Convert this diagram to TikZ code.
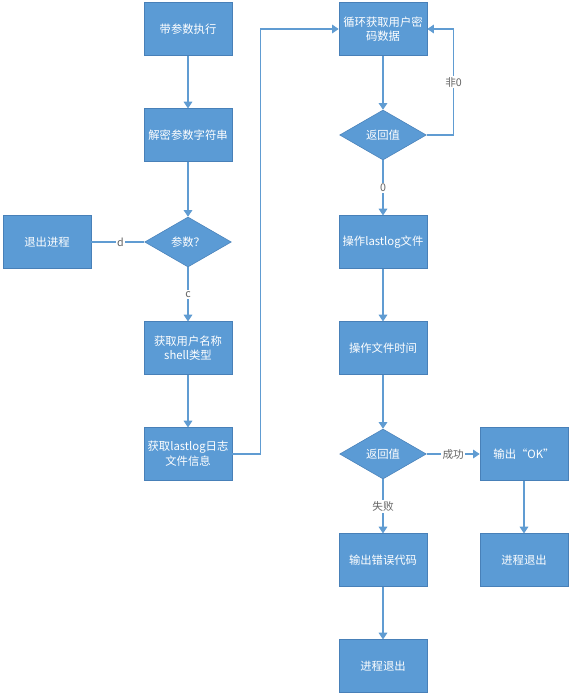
\documentclass[tikz,border=0pt]{standalone}
\usepackage{fontspec}
\setmainfont{Noto Sans CJK SC}
\usepackage{xcolor}
\definecolor{fcblue}{RGB}{91,155,213}
\definecolor{fcedge}{RGB}{72,128,184}
\definecolor{fcline}{RGB}{96,156,210}
\definecolor{fcgray}{RGB}{100,100,100}
\usetikzlibrary{arrows.meta,shapes.geometric}
\tikzset{
  fbox/.style={draw=fcedge, line width=0.4pt, fill=fcblue, text=white, font=\fontsize{8.5}{11}\selectfont,
               minimum width=66pt, minimum height=39.5pt, align=center, inner sep=2pt},
  fdiamond/.style={draw=fcedge, line width=0.4pt, fill=fcblue, text=white, font=\fontsize{8.5}{11}\selectfont,
                   diamond, aspect=1.74, minimum width=65pt, minimum height=37.5pt, inner sep=0pt},
  flow/.style={draw=fcline, line width=0.8pt, -{Triangle[length=5pt,width=6.5pt]}},
  plain/.style={draw=fcline, line width=0.8pt},
  lbl/.style={fill=white, text=fcgray, font=\fontsize{8}{10}\selectfont, inner sep=1pt},
}

\begin{document}
\begin{tikzpicture}[x=0.75pt, y=-0.75pt]
\useasboundingbox (0,0) rectangle (571,696);

% left column
\node[fbox] (start) at (188,29) {带参数执行};
\node[fbox] (decode) at (188,135) {解密参数字符串};
\node[fdiamond] (argchk) at (188,242) {参数？};
\node[fbox] (quit) at (47,242) {退出进程};
\node[fbox] (getuser) at (188,348) {获取用户名称\\shell类型};
\node[fbox] (getlog) at (188,454) {获取lastlog日志\\文件信息};

% right column
\node[fbox] (loop) at (383,29) {循环获取用户密\\码数据};
\node[fdiamond] (ret1) at (383,135) {返回值};
\node[fbox] (oplog) at (383,242) {操作lastlog文件};
\node[fbox] (optime) at (383,348) {操作文件时间};
\node[fdiamond] (ret2) at (383,454) {返回值};
\node[fbox] (okout) at (524,454) {输出“OK”};
\node[fbox] (okquit) at (524,560) {进程退出};
\node[fbox] (errout) at (383,560) {输出错误代码};
\node[fbox] (errquit) at (383,666) {进程退出};

% connectors
\draw[flow] (start) -- (decode);
\draw[flow] (decode) -- (argchk);
\draw[plain] (argchk) -- (quit) node[lbl, pos=0.45] {d};
\draw[flow] (argchk) -- (getuser) node[lbl, midway] {c};
\draw[flow] (getuser) -- (getlog);
\draw[flow] (getlog.east) -- ++(28,0) |- (loop.west);

\draw[flow] (loop) -- (ret1);
\draw[flow] (ret1.east) -- ++(27,0) |- (loop.east) node[lbl, pos=0.25] {非0};
\draw[flow] (ret1) -- (oplog) node[lbl, midway] {0};
\draw[flow] (oplog) -- (optime);
\draw[flow] (optime) -- (ret2);
\draw[flow] (ret2) -- (okout) node[lbl, midway] {成功};
\draw[flow] (okout) -- (okquit);
\draw[flow] (ret2) -- (errout) node[lbl, midway] {失败};
\draw[flow] (errout) -- (errquit);

\end{tikzpicture}
\end{document}
